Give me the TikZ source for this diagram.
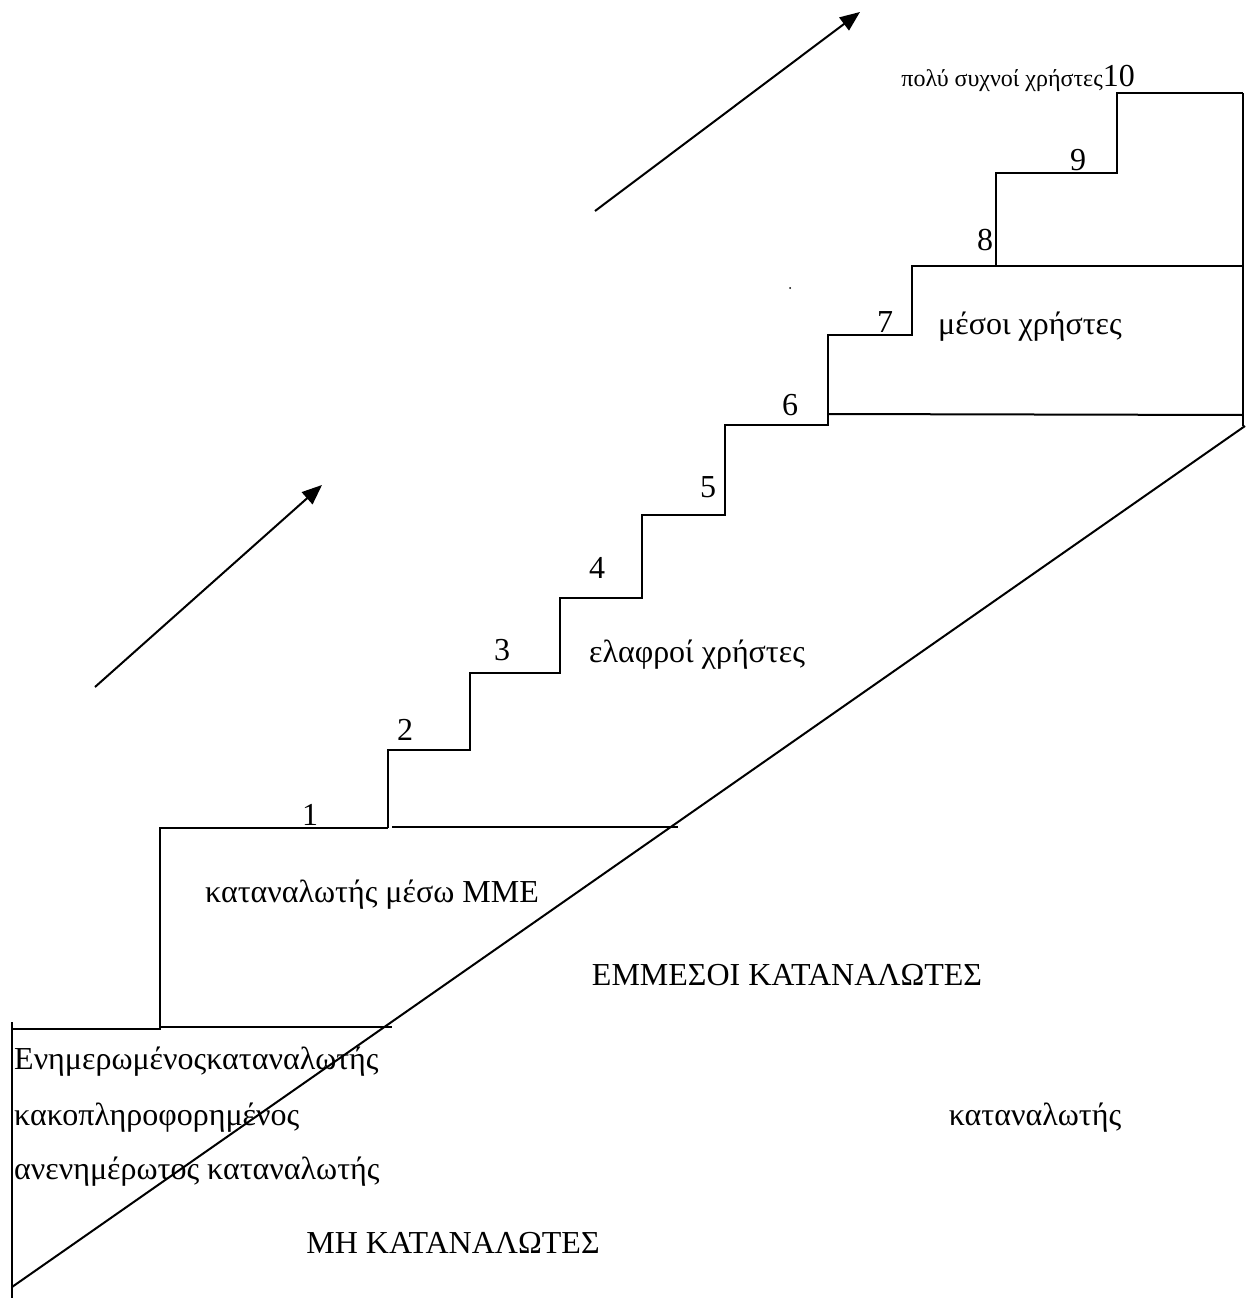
\documentclass[tikz,border=0pt]{standalone}
\usepackage{fontspec}
\setmainfont{Liberation Serif}
\usetikzlibrary{arrows.meta}
\begin{document}
\begin{tikzpicture}[x=1pt,y=-1pt,
  ln/.style={line width=2pt, line cap=butt, line join=miter},
  lbl/.style={inner sep=0pt, font=\fontsize{32}{38}\selectfont},
  arr/.style={line width=2pt, -{Triangle[length=20pt,width=16pt]}}]
\useasboundingbox (0,0) rectangle (1255,1300);
% border and diagonal
\draw[ln] (12,1022) -- (12,1298);
\draw[ln] (12,1287) -- (1245,426);
\draw[ln] (1243,426) -- (1243,93);
% bottom step
\draw[ln] (12,1029) -- (160,1029) -- (160,1027) -- (392,1027);
\draw[ln] (160,1029) -- (160,828) -- (388,828);
\draw[ln] (392,827) -- (678,827);
% stairs
\draw[ln] (388,828) -- (388,750) -- (470,750) -- (470,673) -- (560,673)
  -- (560,598) -- (642,598) -- (642,515) -- (725,515) -- (725,425)
  -- (828,425) -- (828,335) -- (912,335) -- (912,266) -- (1243,266);
\draw[ln] (828,414) -- (1243,415);
\draw[ln] (996,266) -- (996,173) -- (1117,173) -- (1117,93) -- (1243,93);
% arrows
\coordinate (a1s) at (595,211); \coordinate (a1e) at (860,12);
\coordinate (a2s) at (95,687); \coordinate (a2e) at (322,485);
\draw[arr] (a1s) -- (a1e);
\draw[arr] (a2s) -- (a2e);
% dot
\fill (790,288) circle (1pt);
% step numbers
\node[lbl] (n1) at (310,815) {1};
\node[lbl] (n2) at (405,730) {2};
\node[lbl] (n3) at (502,650) {3};
\node[lbl] (n4) at (597,568) {4};
\node[lbl] (n5) at (708,487) {5};
\node[lbl] (n6) at (790,405) {6};
\node[lbl] (n7) at (885,322) {7};
\node[lbl] (n8) at (985,240) {8};
\node[lbl] (n9) at (1078,160) {9};
\node[inner sep=0pt, anchor=base east] (t10) at (1135,87)
  {{\fontsize{24}{28}\selectfont πολύ συχνοί χρήστες}{\fontsize{32}{38}\selectfont 10}};
% texts
\node[lbl] (tmes) at (1030,327) {μέσοι χρήστες};
\node[lbl] (tel) at (697,655) {ελαφροί χρήστες};
\node[lbl] (tmme) at (372,895) {καταναλωτής μέσω ΜΜΕ};
\node[lbl] (temm) at (787,975) {ΕΜΜΕΣΟΙ ΚΑΤΑΝΑΛΩΤΕΣ};
\node[lbl, anchor=west] (ten) at (14,1062) {Ενημερωμένοςκαταναλωτής};
\node[lbl, anchor=west] (tkak) at (14,1118) {κακοπληροφορημένος};
\node[lbl, anchor=west] (tan) at (14,1172) {ανενημέρωτος καταναλωτής};
\node[lbl] (tkat) at (1035,1118) {καταναλωτής};
\node[lbl] (tmh) at (453,1243) {ΜΗ ΚΑΤΑΝΑΛΩΤΕΣ};
\end{tikzpicture}
\end{document}
